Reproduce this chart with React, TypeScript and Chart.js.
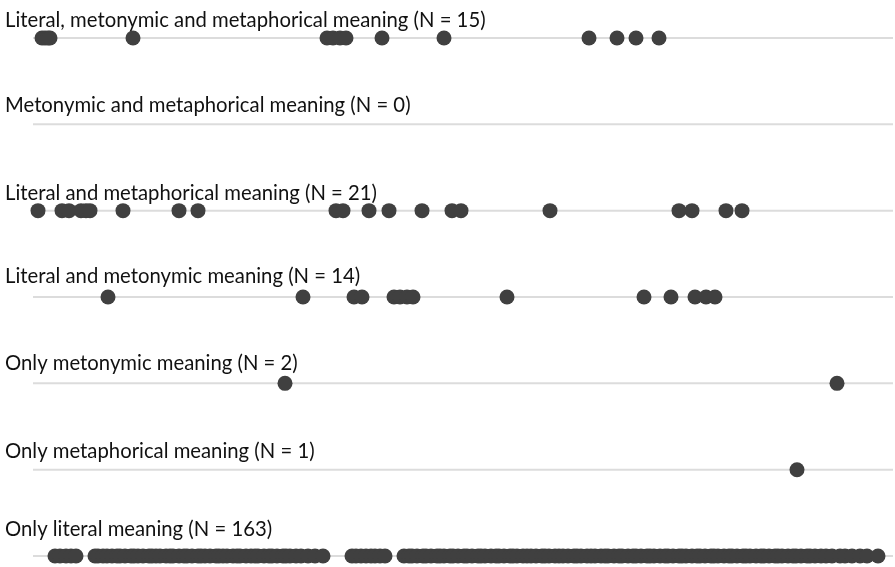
import React, { useEffect, useRef } from "react";
import { Chart, registerables } from "chart.js";

Chart.register(...registerables);

const rowLabels = [
  "Literal, metonymic and metaphorical meaning (N = 15)",
  "Metonymic and metaphorical meaning (N = 0)",
  "Literal and metaphorical meaning (N = 21)",
  "Literal and metonymic meaning (N = 14)",
  "Only metonymic meaning (N = 2)",
  "Only metaphorical meaning (N = 1)",
  "Only literal meaning (N = 163)",
];

const literalMetonymicMetaphorical = [7, 10, 13, 15, 98, 292, 298, 305, 311, 347, 409, 554, 582, 601, 624];
const metonymicMetaphorical: number[] = [];
const literalMetaphorical = [3, 27, 34, 46, 51, 55, 88, 144, 163, 301, 308, 334, 354, 387, 417, 426, 515, 644, 657, 691, 707];
const literalMetonymic = [73, 268, 319, 327, 359, 365, 372, 378, 472, 609, 636, 660, 671, 680];
const onlyMetonymic = [250, 802];
const onlyMetaphorical = [762];
const onlyLiteral = [
  20, 25, 31, 36, 41,
  60, 63, 68, 72, 77, 82, 85, 90, 96, 99,
  103, 108, 114, 117, 121, 125, 131, 135, 138, 144,
  149, 152, 157, 163, 166, 170, 175, 181, 184, 188,
  192, 198, 202, 205, 211, 216, 220, 223, 229, 234,
  237, 242, 248, 251, 255, 261, 266, 273, 280, 288,
  317, 321, 326, 331, 336, 340, 345, 350,
  369, 374, 377, 382, 388, 391, 396, 402, 405, 409,
  415, 418, 423, 429, 432, 437, 443, 446, 450, 456,
  461, 464, 469, 475, 478, 482, 488, 492, 496, 501,
  507, 510, 514, 520, 524, 528, 533, 539, 542, 546,
  552, 556, 560, 566, 570, 573, 579, 584, 587, 593,
  598, 601, 606, 612, 615, 619, 625, 630, 633, 638,
  644, 647, 651, 657, 662, 665, 670, 676, 679, 683,
  689, 694, 697, 702, 708, 711, 715, 721, 726, 729,
  734, 740, 743, 747, 753, 758, 761, 766, 772, 775,
  780, 786, 791, 797, 805, 810, 817, 825, 832, 843,
];

const rowValues = [
  literalMetonymicMetaphorical,
  metonymicMetaphorical,
  literalMetaphorical,
  literalMetonymic,
  onlyMetonymic,
  onlyMetaphorical,
  onlyLiteral,
];

const labelGap = [11, 12, 11, 14, 13, 12, 20];

const xMin = 0;
const xMax = 858;

export default function App() {
  const canvasRef = useRef<HTMLCanvasElement | null>(null);

  useEffect(() => {
    document.body.style.margin = "0";
    const canvas = canvasRef.current;
    if (!canvas) return;

    const lineSets = rowValues.map((_, i) => ({
      type: "line" as const,
      data: [
        { x: -2, y: i },
        { x: xMax, y: i },
      ],
      borderColor: "#dcdcdc",
      borderWidth: 2,
      pointRadius: 0,
      order: 2,
      clip: false as any,
    }));
    const dotSets = rowValues.map((vals, i) => ({
      type: "scatter" as const,
      data: vals.map((v) => ({ x: v, y: i })),
      backgroundColor: "#404040",
      borderWidth: 0,
      pointRadius: 7.5,
      order: 1,
      clip: false as any,
    }));

    const labelPlugin = {
      id: "rowLabels",
      afterDatasetsDraw(chart: any) {
        const ctx = chart.ctx;
        const yScale = chart.scales.y;
        ctx.save();
        ctx.fillStyle = "#111111";
        ctx.font = "20.3px Lato";
        ctx.textBaseline = "alphabetic";
        ctx.textAlign = "left";
        rowLabels.forEach((label, i) => {
          const y = yScale.getPixelForValue(i);
          ctx.fillText(label, 5, y - labelGap[i]);
        });
        ctx.restore();
      },
    };

    const chart = new Chart(canvas, {
      type: "scatter",
      data: { datasets: [...dotSets, ...lineSets] as any },
      options: {
        animation: false,
        responsive: false,
        layout: { autoPadding: false, padding: { left: 35, right: 2, top: 0, bottom: 0 } },
        plugins: { legend: { display: false }, tooltip: { enabled: false } },
        scales: {
          x: { type: "linear", min: xMin, max: xMax, display: false },
          y: { type: "linear", min: -0.44, max: 6.127, reverse: true, display: false },
        },
        elements: { point: { hoverRadius: 7.5 } },
      },
      plugins: [labelPlugin],
    });

    return () => chart.destroy();
  }, []);

  return (
    <div style={{ width: 895, height: 567, background: "#fff" }}>
      <canvas ref={canvasRef} width={895} height={567} style={{ display: "block" }} />
    </div>
  );
}
